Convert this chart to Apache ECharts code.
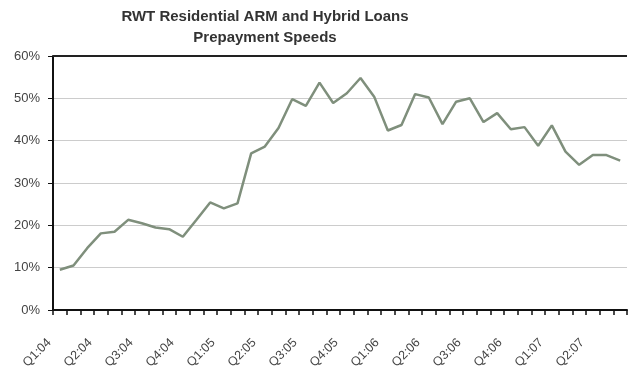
<!DOCTYPE html>
<html>
<head>
<meta charset="utf-8">
<script src="https://cdn.jsdelivr.net/npm/echarts@6/dist/echarts.min.js"></script>
<style>
html,body{margin:0;padding:0;background:#fff;}
#c{width:629px;height:371px;}
</style>
</head>
<body>
<div id="c"></div>
<script>
var titleLines = ["RWT Residential ARM and Hybrid Loans", "Prepayment Speeds"];
var quarterLabels = ["Q1:04","Q2:04","Q3:04","Q4:04","Q1:05","Q2:05","Q3:05","Q4:05","Q1:06","Q2:06","Q3:06","Q4:06","Q1:07","Q2:07"];
var monthsPerQuarter = 3;
var speeds = [9.5,10.5,14.6,18.1,18.5,21.3,20.5,19.5,19.1,17.3,21.3,25.4,24.0,25.2,
  37.0,38.6,43.0,49.8,48.2,53.7,48.9,51.2,54.8,50.4,42.4,43.7,51.0,50.2,43.9,49.2,
  50.0,44.4,46.5,42.7,43.2,38.8,43.6,37.4,34.3,36.6,36.6,35.3];
var yTicks = [0,10,20,30,40,50,60];

var categories = speeds.map(function(v,i){
  return (i % monthsPerQuarter === 0) ? (quarterLabels[i/monthsPerQuarter] || "") : "";
});

var chart = echarts.init(document.getElementById('c'), null, {renderer:'canvas'});
chart.setOption({
  animation:false,
  backgroundColor:'#ffffff',
  title:{
    text:titleLines.join('\n'),
    left:260, top:1, textAlign:'center',
    textStyle:{fontFamily:'Liberation Sans, Arial', fontSize:15, fontWeight:'bold', color:'#333333', lineHeight:21, align:'center'}
  },
  grid:{left:53, right:2, top:56, bottom:61, containLabel:false, outerBoundsMode:'none'},
  xAxis:{
    type:'category',
    data:categories,
    boundaryGap:true,
    axisLine:{lineStyle:{color:'#111', width:2}},
    axisTick:{show:true, interval:0, length:5, lineStyle:{color:'#111', width:1.5}},
    axisLabel:{interval:0, rotate:45, fontFamily:'Liberation Sans, Arial', fontSize:12.5, color:'#444', margin:20, padding:[0,15,0,0]},
    splitLine:{show:false}
  },
  yAxis:{
    type:'value', min:yTicks[0], max:yTicks[yTicks.length-1], interval:10,
    axisLine:{show:true, lineStyle:{color:'#111', width:2}},
    axisTick:{show:true, length:5, lineStyle:{color:'#111'}},
    axisLabel:{formatter:'{value}%', fontFamily:'Liberation Sans, Arial', fontSize:13, color:'#444', margin:13},
    splitLine:{show:true, lineStyle:{color:'#cccccc', width:1}}
  },
  series:[{
    type:'line',
    data:speeds,
    symbol:'none',
    lineStyle:{color:'#7f8f7c', width:2.5},
    markLine:{
      silent:true, symbol:'none', label:{show:false},
      lineStyle:{color:'#222', width:2, type:'solid'},
      data:[{yAxis:60}]
    }
  }]
});
</script>
</body>
</html>
